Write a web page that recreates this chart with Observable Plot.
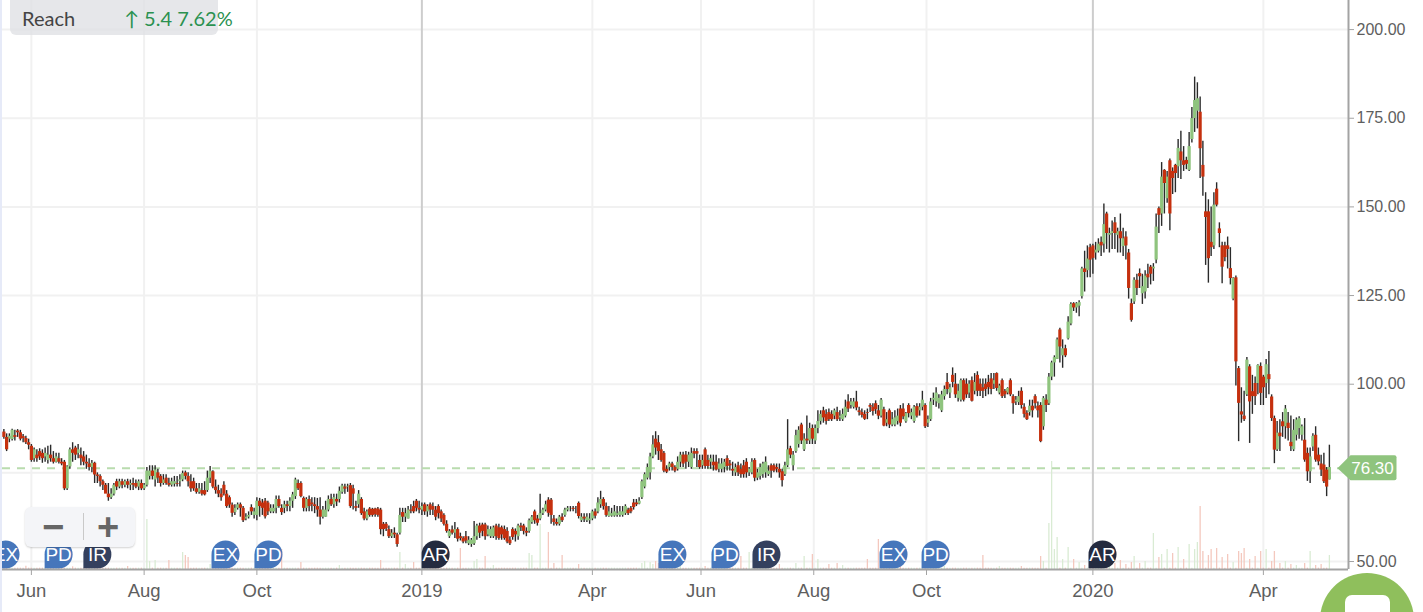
<!DOCTYPE html>
<html><head><meta charset="utf-8">
<script src="https://cdn.jsdelivr.net/npm/d3@7"></script>
<script src="https://cdn.jsdelivr.net/npm/@observablehq/plot@0.6"></script>
<style>
html,body{margin:0;padding:0;background:#fff;overflow:hidden}
#wrap{position:relative;width:1423px;height:612px;overflow:hidden}
#wrap svg{display:block;position:absolute;left:0;top:0}
.abs{position:absolute}
</style></head><body><div id="wrap"></div>
<script>
const opens=[
86.5,85,84.5,84.4,85.5,86.8,86.3,85.2,84.7,83.5,
82.5,79,80,81,80.5,79.5,78.5,80,79,78,
79,78,78,70.5,76.7,81.5,82,80.5,80,79.5,
78,77.5,76.5,77.7,74.4,74,72.5,71.5,69,68,
69,72.5,71,72.5,71.5,72.5,71.5,72,72,71,
72,70.5,71.5,74,75.5,73,75,74,72,73.5,
72,71.5,71.8,72,72.5,73,75,74,72.5,72.5,
70.5,69.5,70,70,70,73.5,75.3,71,70,69,
71.5,69,68,65.9,63.8,65,66,65,62,62.5,
65.2,63,63,67,66.5,67,66.5,64,64,65,
67.5,65,65,66,65.5,67,68.3,72,72,67.8,
65,67.5,66.5,66,65.5,64.5,62.5,62.5,64.5,67.5,
66,67.5,67.5,69.5,71,71,71.4,70.5,65.5,66,
67.5,64,62,64.8,64.7,64.8,64.8,64.5,60.5,60.5,
59,57,58,57.5,58,63.8,62.5,62,64.5,65.5,
67,65,64.5,66,64,66,65.5,64.5,65.5,64,
63,60.5,57,58.9,58,59,57,56.5,57,55,
54.8,55,57,60,60.3,60.3,57.5,57,57,60,
59.5,59.5,59,58.5,56,59,58.5,57,60,60,
58.5,58.5,61,64,62,62,63.5,64.5,67.3,67.3,
62,61,60.5,62.5,63,64.5,65,65,65,66.4,
61.5,62.5,61.5,61.5,62,64,64,66,67.5,65.5,
62.7,62.8,62.8,63,63,63,63.5,64.5,65,66.5,
66.5,66.2,68,71,73.5,75,79.5,84.5,83.5,81.5,
80.5,76,76.5,77.5,76.5,76,78,80,80,78,
76.5,81,81,78.5,77,81.5,78.5,78,78,78,
76,76,76.5,79,77.5,76,75,77,76,77,
78,75,75,78.5,73.5,74,74.5,75,74.5,77,
77,76.5,76,75.3,74.5,77,81.8,77,81,83,
88.5,81.5,84.5,84,87.5,84,87.5,89.5,92.5,91.5,
92,91.5,91,92,90.5,90,91,95,94,93.5,
95,92.5,92,91.5,92,94,93.5,94.5,92.5,91,
92.8,89,92.5,88.5,88.5,89.5,93,93,89.4,94,
91,89.5,93.7,92.5,93.5,94,89,90,95.5,95,
94.5,92.5,96.5,100.5,97.5,102.5,100,96,95.5,101,
100,97.5,101,98,102.5,100,99,100,100.5,101.5,
100,103,97.5,101,98,97.5,101,96.5,95,94.8,
98,93.5,91.8,92,93.8,96.5,93.8,94,88,95.5,
94.5,102,106,107,115.3,108,110,112.8,117,122.7,
121.5,122,124.7,132.5,132,138.5,139,137,137.5,140,
139.5,148,142,142.5,145.5,142,143,138.8,141.5,137,
122.7,123.2,129.3,131.2,125.5,126,131,133,132.5,135,
149.5,148,160.3,152.3,163,160,161.7,161.3,165.5,163,
163.1,160.3,169,174.9,177,176.7,161.7,148.6,148.6,140,
139,155,143.8,139,139,139,132.6,124,130,104.4,
92.2,91,97,104.9,97.9,100.2,100.2,105,102,100.2,
102.7,96.4,90.3,81.5,86.2,89.4,88,89,83.6,81.5,
85.6,87.5,85.6,84.2,80.5,75.3,82.3,85.6,80,77.5,77.2,75.8,73];
const closes=[
85,81.5,85.3,87,85,86.3,84.5,84.7,83.5,82.8,
78.5,81.5,79,79.5,79,80.5,80,79,78,79.5,
78,77.5,70.5,76.7,81.5,80.5,80,81.5,79,78,
77.5,76.5,77.7,74.4,74,72.5,71.5,69,68,69,
71.5,71,72.5,71.5,72.5,71.5,72,71.5,71,72.5,
70.5,71.5,75.5,75.5,74,75.8,73.5,72,73,72,
71.5,72.5,72.5,71.8,73,74.8,74,72.5,70.5,70.5,
69.5,70.5,69,68.8,73.5,75.5,71,70,69,68,
69,65.5,65.9,63.6,65,66,65,61.5,62.5,63,
64,64,67,65.5,65,62.6,64,65,65,67.5,
65.5,63.8,66,65.5,67,68.8,73,70.5,68.3,65,
67.5,65.5,66,65.5,64.5,62.5,64.5,64.5,67.5,66,
68,66.8,69.8,71.3,70.4,71.2,65.5,69,65,69,
63.5,62,64,63,63,63.2,63,59,59,59.2,
57,58,57.5,54.8,63,62.5,63.5,64.5,64.2,64,
65,64.5,65.5,64,65.5,64.5,64.5,62.5,63.5,62,
60.5,58.5,58.5,58,59,56.3,56.5,55.5,55.8,56,
56,57,60,58,58.5,57,59,59,59.5,57,
56.5,57.5,56.5,55.5,55,56.8,57.5,60,59.5,58.5,
58,61.5,62.5,61.5,60.8,63.5,64.5,66,63.6,63,
61,60.5,62.5,61.5,64.5,65,65,64.7,65,62.7,
62.5,62,62.5,62,64,62.8,66.5,67.5,65.5,63,
64,63.5,64,63.5,64,64,65.5,63.5,64,65.2,
66,67,72.5,74.5,76.5,79.5,82.9,82,81,78.5,
75.5,75.2,77.5,76.5,75.5,78,80,77.5,78,80,
80.5,80.3,80.3,76.5,78.5,76.8,76.8,79,77,75.8,
77.5,77.5,78,76.8,77,75.5,76.5,75,74.5,74.5,
75,76,78,73.5,75,76.5,77.5,78,75.5,75.5,
75.5,76,75,72.8,77,81.5,80,80,85.5,87,
84,84.5,84,87.5,84.5,87.5,89.5,91.5,90.5,89.5,
90,90,92.5,90,91,91.5,93.5,93,95,95,
93.3,92,91.2,90.1,91.8,93.5,92.3,92.8,91,95.5,
88.2,90,88.5,90,90.5,91,89,90.8,91.7,91.7,
92,93.5,91,93.5,95.5,88,90,95,96,97.5,
96,97,98.5,98.5,99,100.5,97,98,101,95.5,
97,100,95.2,100.5,98,98,98,98.5,99,98.5,
101,98.8,99.5,96.5,97,98.8,97,94.5,95.5,96.5,
94,91.5,90,93.8,92.5,94.5,92.5,83.8,96,94,
102,106,107.5,112.5,110.5,110,108,117.5,122.5,121.5,
122.7,123,132.5,131.5,135.3,135,135.5,137.8,139.5,139,
145,142.5,142.5,143,142.5,143,141,141,139,127,
118,129.3,127,130.3,127.5,130.5,130,131,133,144.3,
147.6,158.4,156.6,158.4,148,158,159.4,166.5,163,161.7,
162,167,174.9,180,180.5,166.4,158.4,147,135.4,138.5,
150.5,150.5,142.5,133,135.7,138,129.8,129.8,106.3,94.6,
91.3,90,106.8,95,96.5,96.5,105.3,97.4,99,105.5,
101.3,90.3,81.4,86.2,85.2,88,93,87.5,82.4,87,
89.9,90.3,88,78.6,75.3,79.5,85.3,78.6,78.1,75.8,72.5,71,76.5];
const highs=[
87.2,86,86,87.3,87,87.2,87,85.8,85.3,84.5,
83,82,81.5,81.8,81.5,82,82.5,82.8,81,80.5,
80.5,79,78.5,77,82,83.5,82.5,83,82,81,
80,79,78.5,78,75,74.5,73,72,72,70.5,
72,73.2,73.2,73.2,73,73.2,73,73.5,73,73,
73,72,76.5,77,77,77,76,74.5,74.5,74.5,
73.5,73.5,74,74,74.5,75.5,75.5,75,74.5,73.5,
72,72,72,72.5,75.5,76.8,75.6,73,71.5,70.5,
72.5,70,68.5,66.5,66,66.5,66.5,65.5,63.5,64,
66,65,68,67.8,67.5,67.8,67,66,66,68.5,
68.5,66,67,67,68,69.5,73.5,73,72.5,68.2,
68,68.5,68,68,67.8,68,65.5,67,68.5,69,
69,69,71,71.8,71.8,71.8,72,71.5,67,70,
68,65,64.5,65.2,65,65,65.2,65,61,61,
60,59,59.5,58,65,65,65,65.5,66,67,
67.5,67,66.5,66.5,66,66.5,66.5,65.5,66,64.5,
63.5,61.5,59,60,61,59.5,58,57,58.5,57,
56.5,61.3,60.5,60.8,60.8,60.8,60,59.8,60,60.5,
60.5,60,60,59.5,57,59.5,59.2,60.5,60.8,60.5,
59.5,62,63,64.5,63,69,65,67,68,67.8,
63,62,63,63.5,65,65.5,65.5,65.5,65.5,66.8,
63.5,63.5,63.5,63.5,64.5,64.8,68,69.8,68,66.5,
65.5,65,65.8,65.5,65.5,65.5,66,65,65.5,67.5,
67.5,68,73,75,77.5,80.5,85.5,86.6,85.5,83,
81,77,78,78,77,79.5,80.8,80.8,81,80.8,
82,81.8,81.8,80,80,82,80,80,80,80,
79,79,78.8,79.8,78.5,78,77.5,78,77.5,78.5,
79,76.5,79,79,76,77.5,78,79.5,77,77.5,
77.5,77.5,77.5,76,78,90,82.5,81,87,88,
89,86,91,89,88.5,88.5,92.5,92.5,93.5,92.8,
93,92.5,93,93.5,92.5,93,95.5,97,96,96,
98,93.5,93,92.5,93,94.5,94.5,95.3,94,96,
93.5,92,93,92,92.5,93,94,94.5,92,94.5,
93,94,94.5,94.5,98,94.5,91,96,97.5,99,
97,98,99.5,103,100,104.6,103,100,101.5,101.5,
101.5,101,102,103,103.5,101.5,101.5,101.5,102.5,103,
103,103.2,100,101.5,98.5,99,101.5,97,96.5,98,
99,94.5,92.5,95.5,95.5,97,95,94.8,96.5,97,
103,106.5,108,113,115.8,112.5,111,119,123,123,
123,123.5,133,137.5,139,139.5,139.5,140,141,141.5,
150.8,148.5,144,146,147,144,148,144,143,138,
124,130,131,132.5,131,132,133.8,133.5,134,148,
150,162.5,160.5,160,163.5,161,162,169,171.3,167,
164,171,178,186.6,185,181,168.5,154,152,150,
154,156.8,145.5,140,140,141.5,138.5,130,130.5,105,
99,98,107.5,105.5,102.5,102,105.5,106,102.5,107,
109.2,97,91,89.5,90,92,94,92,91,90,
90.5,90.8,88.5,90.3,82,82,86,88,82,80,80.5,76.5,82.8];
const lows=[
84.5,81,83.5,84,84,85,84,83.5,83,81.5,
78,78,78,78.5,77.7,78,77.5,78,77.5,77.8,
77.5,77,70,70,76,78,78.5,79,77,77,
76,75.5,75,72,72,71,70,70,67,67.5,
68.5,70,70.5,70.5,70.8,70.5,70,70,70.5,70,
70,70,71,73,73,71,72,71,71.5,71.5,
71,71,71,71,71,72.5,73,71,69.5,69.8,
69,69,68.5,68.5,69.5,72,70.5,69,68,67,
68.5,65,65,62.5,63,64.5,62.5,61,61.5,62,
63,62,61.5,62.5,63,62,63,63.5,63.5,63.5,
65,63,63.5,64,64,65,67.5,70,68,64,
64,64,64,63.5,62.5,60.3,62,62.5,64,65.5,
65,65.5,66.5,69,69,69.5,65,64.5,64,65,
63,61.5,61.5,62.5,62.5,62.5,62.5,57.5,57,58.5,
56.5,56.5,56.5,54,57.5,61,61,62,63.5,63.5,
64,63.5,63,63,62.5,63,63,61.5,62,61,
60,58,56.5,57.5,56.5,55.5,55.8,55,55,54.5,
54,54.5,56,56.5,57,56,57,56.5,56.5,56,
56,56,56,55,54.5,56,55.5,56,58.5,57.5,
57,58,60.5,60.5,60,61.5,63,64,62.5,60.5,
60,60,60,61,62.5,64,64,64,63.5,62,
61,61,61,60.5,61.5,62,63.5,65,64.5,62.5,
62.5,62.5,62.5,62.5,62.5,62.5,63,63,63.5,64.5,
65.5,66,67.5,70.5,73,73,79,80,78.5,78,
75,74.8,75.5,75.5,75,75.5,76.5,76.5,76,76.5,
76,79,76.5,76,76,76,76,76,75.5,75.5,
75,75,75,75.5,75.5,74,74,74,73.5,73.5,
73.5,74,74.5,72.5,72.8,73,73.5,73.5,74,73.5,
75,75,73.5,71,74,76.5,79,75.5,80.5,82,
83,81,83,83,83,83,86,88.5,89,88.5,
89.5,89.5,90,89.5,89.5,89.5,90.5,92,93,93,
92.5,91,90.5,89.8,90,92,91,91.5,90,90.5,
88,88,87.5,88,88,88.5,88,90,89,90.5,
90,89,90.5,91,92.5,87.5,87.8,89.5,94,93.5,
93,92,95.5,97,96,99,96,95,95,95,
96,96,95,97,96.5,96.5,96,96.5,97,97,
98.5,98,97,96,96,97,96.5,91.5,94,94,
93,90.5,89.8,91,90.5,93,90.5,83.5,87,92,
94,101,102,107,106,104.5,107.5,112.5,116.5,120.5,
120,119,124,126,130,130,131,135,137,136,
137,138,137,138,138,137,137,136,135,124,
117.5,122.5,125,127,122.5,124,127,128,129,134,
142.5,144.5,148,151,143.3,153.5,154,158,157.7,160,
160.5,160,168,171,172,158,153,133.5,128.5,136,
138,150,138.5,128.3,134.5,132.5,128,123.5,99.5,83.8,
89,89.5,96.5,83.3,91.5,94,97,94,94,96,
97,89.5,77.6,81,81,85,84.5,84,81,81,
84,84.5,84,78,72.6,72,81,78,77,74,72,68.3,73];

// Volume: sessions with a visible bar, everything else stays at the quiet level
const quietVolume=4;
const volumeSessions=[1,8,16,25,33,45,52,53,55,60,65,66,67,75,82,97,101,108,122,137,144,146,149,156,
166,171,172,175,178,191,192,195,198,200,203,209,232,233,235,236,237,238,240,246,255,262,268,271,282,288,291,294,296,300,303,305,314,318,
326,335,342,356,362,370,377,378,380,381,382,383,385,387,389,391,393,395,397,399,402,404,406,408,410,411,413,415,
418,420,421,423,425,427,429,431,433,434,435,436,438,439,441,443,445,447,449,450,451,453,455,457,459,461,462,464,466,468,470,473,475,477,479,482];
const volumeValues=[12,10,9,8,6,9,150,24,27,27,51,42,36,15,12,15,60,21,12,27,51,15,21,9,
63,24,30,39,12,48,42,135,111,18,42,15,18,24,21,15,24,18,9,12,9,12,39,51,15,18,39,45,30,15,18,12,30,90,
30,12,9,42,9,9,39,24,138,324,60,96,30,66,30,21,12,18,27,9,24,18,27,15,21,39,18,24,
108,36,45,60,48,66,30,75,60,81,189,54,42,60,63,36,45,21,54,48,63,30,39,54,60,24,54,18,24,15,12,18,54,12,15,42];

const sessionTicks=[10,51,92,152,214,253.5,294.5,335.5,396,458];
const tickLabels=["Jun","Aug","Oct","2019","Apr","Jun","Aug","Oct","2020","Apr"];
const yearTicks=[152,396];
const priceGrid=[50,75,100,125,150,175,200];
const priceTicks=[50,100,125,150,175,200];
const lastPrice=76.30;

const eventSessions=[0.6,19.9,34,80.6,96.2,157,243.1,262.4,277.3,323.5,338.8,399.5];
const eventLabels=["EX","PD","IR","EX","PD","AR","EX","PD","IR","EX","PD","AR"];
const eventColors={EX:"#4676bb",PD:"#4676bb",IR:"#34405e",AR:"#242b40"};

const sessions=opens.map((o,i)=>({i,o,c:closes[i],h:highs[i],l:lows[i]}));
const volumes=sessions.map(s=>{const k=volumeSessions.indexOf(s.i);return {i:s.i,v:k>=0?volumeValues[k]:quietVolume,up:s.c>=s.o};});
const events=eventSessions.map((i,k)=>({i,label:eventLabels[k]}));

const yMin=47.75, yMax=208.2, xMin=-0.5, xMax=488.95, volumeK=0.094;

const badge={draw(ctx,size){const r=Math.sqrt(size/Math.PI);ctx.moveTo(-r,r);ctx.lineTo(-r,0);ctx.arc(0,0,r,Math.PI,2.5*Math.PI);ctx.closePath();}};
const priceTag={draw(ctx){ctx.moveTo(0,0);ctx.lineTo(13,-13);ctx.lineTo(57,-13);ctx.arcTo(59,-13,59,-11,2);ctx.lineTo(59,10);ctx.arcTo(59,12,57,12,2);ctx.lineTo(13,12);ctx.closePath();}};

const eventMarks=Object.keys(eventColors).map(kind=>Plot.dot(events.filter(e=>e.label===kind),{x:"i",frameAnchor:"bottom",dy:-15,r:14,symbol:badge,fill:eventColors[kind],stroke:"none",clip:"frame"}));

const chart=Plot.plot({
  width:1423,height:612,marginLeft:2,marginRight:75,marginTop:0,marginBottom:43,
  style:{background:"transparent",fontFamily:"'Liberation Sans',Arial,sans-serif",overflow:"visible"},
  x:{type:"linear",domain:[xMin,xMax]},
  y:{type:"linear",domain:[yMin,yMax]},
  marks:[
    Plot.ruleY(priceGrid,{stroke:"#f1f1f1",strokeWidth:2}),
    Plot.ruleX(sessionTicks.filter(d=>!yearTicks.includes(d)),{stroke:"#f1f1f1",strokeWidth:2}),
    Plot.ruleX(yearTicks,{stroke:"#cdcdcd",strokeWidth:2}),
    Plot.ruleX(volumes.filter(d=>d.up),{x:"i",y1:yMin,y2:d=>yMin+d.v*volumeK,stroke:"#d9ebd3",strokeWidth:1.3}),
    Plot.ruleX(volumes.filter(d=>!d.up),{x:"i",y1:yMin,y2:d=>yMin+d.v*volumeK,stroke:"#f4c8be",strokeWidth:1.3}),
    Plot.ruleY([lastPrice],{stroke:"#b9dcae",strokeWidth:2,strokeDasharray:"8,7"}),
    Plot.ruleX(sessions,{x:"i",y1:"l",y2:"h",stroke:"#2a2a2a",strokeWidth:1.4}),
    Plot.ruleX(sessions.filter(d=>d.c>=d.o),{x:"i",y1:"o",y2:"c",stroke:"#8fc47e",strokeWidth:3.2}),
    Plot.ruleX(sessions.filter(d=>d.c<d.o),{x:"i",y1:"o",y2:"c",stroke:"#c5300e",strokeWidth:3.2}),
    ...eventMarks,
    Plot.text(events,{x:"i",frameAnchor:"bottom",dy:-15,lineAnchor:"middle",text:"label",fill:"#fff",fontSize:19,clip:"frame"}),
    Plot.ruleX([xMax],{stroke:"#a3a3a3",strokeWidth:2}),
    Plot.ruleY([yMin],{stroke:"#a3a3a3",strokeWidth:2}),
    Plot.axisY({anchor:"right",ticks:priceTicks,tickFormat:d=>d.toFixed(2),tickSize:5,tickPadding:3,fontSize:16,color:"#5e5e5e",stroke:"#a3a3a3",label:null}),
    Plot.axisX({ticks:sessionTicks,tickFormat:d=>tickLabels[sessionTicks.indexOf(d)],tickSize:6,tickPadding:8,fontSize:18.5,color:"#5e5e5e",stroke:"#a3a3a3",label:null}),
    Plot.dot([lastPrice],{x:()=>xMax,y:d=>d,dx:-11,r:10,symbol:priceTag,fill:"#8fc47e",stroke:"none"}),
    Plot.text([lastPrice],{x:()=>xMax,y:d=>d,dx:24,text:d=>d.toFixed(2),fill:"#fff",fontSize:17})
  ]
});
const wrap=document.getElementById("wrap");
wrap.appendChild(chart);
function add(style,html){const e=document.createElement("div");e.className="abs";e.style.cssText=style;if(html)e.textContent=html;wrap.appendChild(e);return e;}
add("left:0;top:0;width:2px;height:612px;background:#e6eaf8");
add("left:10px;top:-6px;width:208px;height:41px;background:rgba(222,223,227,.75);border-radius:6px");
add("left:22px;top:7px;font:20px Lato,sans-serif;color:#444;line-height:22px","Reach");
add("left:124px;top:7px;font:20px Lato,sans-serif;color:#2b9150;line-height:22px;white-space:pre","↑ 5.4 7.62%");
add("left:25px;top:507px;width:110px;height:40px;background:#f4f5f8;border-radius:6px;box-shadow:0 1px 2px rgba(0,0,0,.18)");
add("left:83px;top:513px;width:1px;height:27px;background:#c9c9c9");
add("left:42px;top:508px;width:21px;font:bold 38px/38px 'Liberation Sans',sans-serif;color:#666;text-align:center","−");
add("left:97px;top:508px;width:21px;font:bold 38px/38px 'Liberation Sans',sans-serif;color:#666;text-align:center","+");
add("left:1320px;top:573px;width:94px;height:94px;border-radius:50%;background:#8fbf5c");
add("left:1345px;top:595px;width:45px;height:40px;border-radius:7px;background:#fff");
</script></body></html>
